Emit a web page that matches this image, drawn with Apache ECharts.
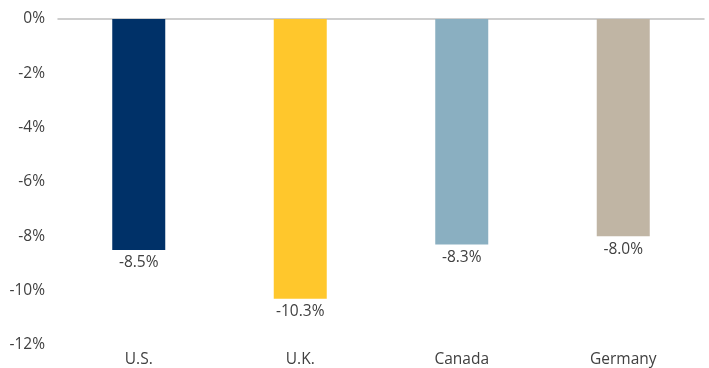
<!DOCTYPE html>
<html><head><meta charset="utf-8">
<script src="https://cdn.jsdelivr.net/npm/echarts@6/dist/echarts.min.js"></script>
<style>html,body{margin:0;padding:0;background:#fff}#c{width:709px;height:368px}</style>
</head><body><div id="c"></div>
<script>
const categories = ["U.S.", "U.K.", "Canada", "Germany"];
const values = [-8.5, -10.3, -8.3, -8.0];
const barColors = ["#003168", "#FFC72C", "#8AAFC1", "#C0B5A4"];
const yTicks = { min: -12, max: 0, interval: 2 };

const font = "Open Sans";
const chart = echarts.init(document.getElementById('c'));
chart.setOption({
  animation: false,
  grid: { left: 58, right: 5, top: 19, bottom: 21, containLabel: false },
  xAxis: [{
    type: 'category', data: categories, position: 'bottom',
    axisLine: { show: false, onZero: false }, axisTick: { show: false },
    axisLabel: { color: '#404040', fontSize: 15.5, fontFamily: font, margin: 7 }
  }, {
    type: 'category', data: categories, position: 'top',
    axisLine: { show: true, onZero: false, lineStyle: { color: '#BFBFBF', width: 1.5 } },
    axisTick: { show: false }, axisLabel: { show: false }
  }],
  yAxis: {
    type: 'value', min: yTicks.min, max: yTicks.max, interval: yTicks.interval,
    axisLine: { show: false }, axisTick: { show: false }, splitLine: { show: false },
    axisLabel: { color: '#404040', fontSize: 15.5, fontFamily: font, margin: 13, formatter: v => v + '%' }
  },
  series: [{
    type: 'bar', barWidth: 53,
    data: values.map((v, i) => ({ value: v, itemStyle: { color: barColors[i] } })),
    label: { show: true, position: 'bottom', distance: 5, color: '#404040', fontSize: 15.5, fontFamily: font,
      formatter: p => p.value.toFixed(1) + '%' }
  }]
});
</script></body></html>
